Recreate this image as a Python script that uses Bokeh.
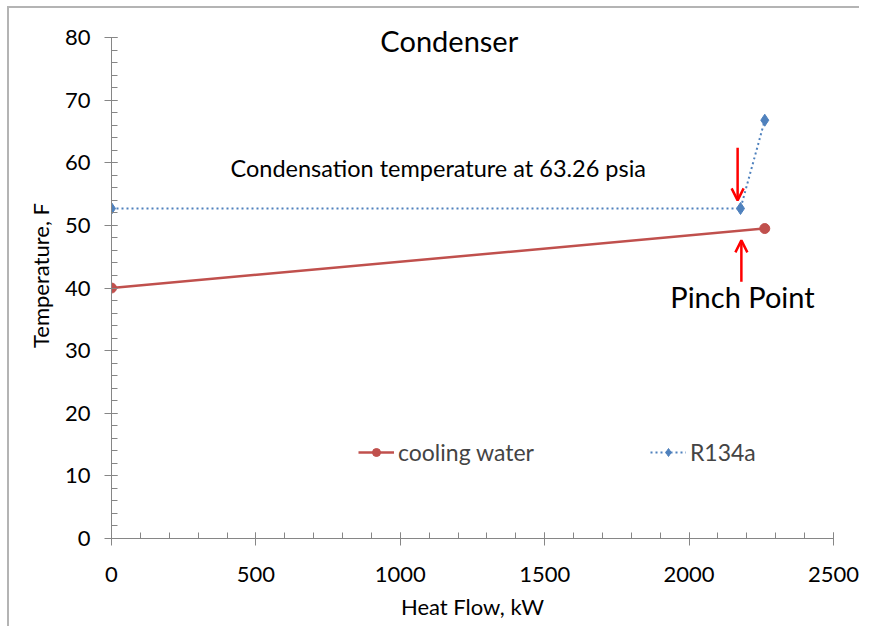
from bokeh.plotting import figure
from bokeh.models import Range1d, Label, Arrow, OpenHead, Legend, LegendItem, FixedTicker
from bokeh.embed import file_html
from bokeh.resources import INLINE

# Data
water_q = [0, 2262]
water_t = [40.0, 49.5]
r134a_q = [0, 2178, 2262]
r134a_t = [52.7, 52.7, 66.8]

x_ticks = [0, 500, 1000, 1500, 2000, 2500]
y_ticks = [0, 10, 20, 30, 40, 50, 60, 70, 80]

FONT = "Lato"
RED = "#C0504D"
BLUE = "#4F81BD"
AXIS = "#868686"

p = figure(width=852, height=620, output_backend="svg", toolbar_location=None,
           x_range=Range1d(0, 2500), y_range=Range1d(0, 84))
p.margin = (6, 0, 0, 7)
p.styles = {"border-left": "2px solid #b4b4b4", "border-top": "2px solid #b4b4b4",
            "border-right": "none", "border-bottom": "none"}
p.min_border_left = 102
p.min_border_right = 28
p.min_border_top = 4
p.min_border_bottom = 90
p.outline_line_color = None
p.grid.visible = False
p.background_fill_color = "white"
p.border_fill_color = "white"

for ax in (p.xaxis[0], p.yaxis[0]):
    ax.axis_line_color = AXIS
    ax.major_tick_line_color = AXIS
    ax.minor_tick_line_color = AXIS
    ax.major_tick_in = 6
    ax.major_tick_out = 7
    ax.minor_tick_in = 6
    ax.minor_tick_out = 0
    ax.major_label_text_font = FONT
    ax.major_label_text_font_size = "22px"
    ax.major_label_text_color = "black"
    ax.axis_label_text_font = FONT
    ax.axis_label_text_font_size = "22px"
    ax.axis_label_text_font_style = "normal"
    ax.axis_label_text_color = "black"

p.xaxis.ticker = FixedTicker(ticks=x_ticks, minor_ticks=list(range(0, 2501, 100)))
p.yaxis.ticker = FixedTicker(ticks=y_ticks, minor_ticks=list(range(0, 81, 2)))
p.yaxis.bounds = (0, 80)
p.xaxis.major_label_standoff = 21
p.yaxis.major_label_standoff = 14
p.xaxis.axis_label = "Heat Flow, kW"
p.yaxis.axis_label = "Temperature, F"
p.xaxis.axis_label_standoff = 8
p.yaxis.axis_label_standoff = 8

w_line = p.line(water_q, water_t, line_color=RED, line_width=2.5)
w_pts = p.scatter(water_q, water_t, marker="circle", size=10, fill_color=RED, line_color=RED)
r_line = p.line(r134a_q, r134a_t, line_color=BLUE, line_width=2, line_dash="2 3")
r_pts = p.scatter(r134a_q, r134a_t, marker="diamond", size=12, fill_color=BLUE, line_color=BLUE)

legend = Legend(items=[LegendItem(label="cooling water", renderers=[w_line, w_pts]),
                       LegendItem(label="R134a", renderers=[r_line, r_pts])],
                orientation="horizontal", location=(247, 72),
                border_line_color=None, background_fill_alpha=0,
                label_text_font=FONT, label_text_font_size="23px",
                glyph_width=36, spacing=116, label_standoff=4)
p.add_layout(legend)

p.add_layout(Label(x=931, y=79.5, text="Condenser", text_font=FONT, text_font_size="29px",
                   text_baseline="middle", text_color="black"))
p.add_layout(Label(x=412, y=59.2, text="Condensation temperature at 63.26 psia",
                   text_font=FONT, text_font_size="23.5px", text_baseline="middle",
                   text_color="black"))
p.add_layout(Label(x=1935, y=38.7, text="Pinch Point", text_font=FONT,
                   text_font_size="29px", text_baseline="middle", text_color="black"))

p.add_layout(Arrow(x_start=2168, y_start=62.4, x_end=2168, y_end=54.0,
                   line_color="red", line_width=2.5,
                   end=OpenHead(size=12, line_color="red", line_width=2.5)))
p.add_layout(Arrow(x_start=2181, y_start=41.0, x_end=2181, y_end=47.6,
                   line_color="red", line_width=2.5,
                   end=OpenHead(size=12, line_color="red", line_width=2.5)))

open("out.html", "w").write(file_html(p, INLINE))
